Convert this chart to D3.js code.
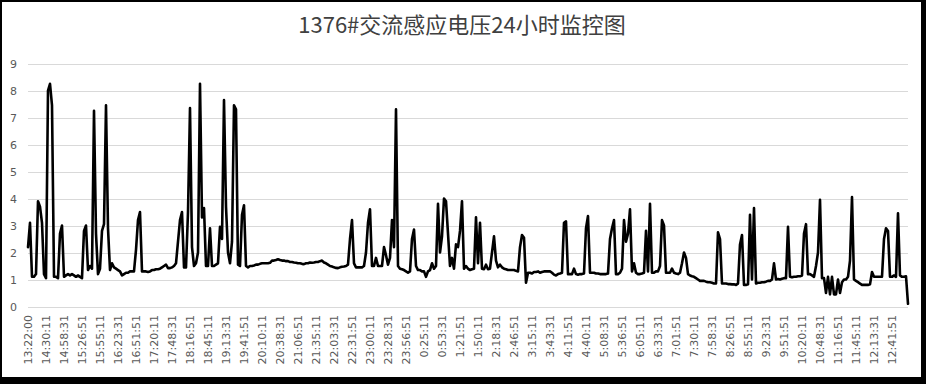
<!DOCTYPE html>
<html>
<head>
<meta charset="utf-8">
<script src="https://cdn.jsdelivr.net/npm/d3@7"></script>
<style>
  body { margin: 0; background: #fff; }
  svg { display: block; }
</style>
</head>
<body>
<script>
// chart text
var chartTitle = "1376#交流感应电压24小时监控图";

// category labels, one every 9 samples
var timeLabels = [
  "13:22:00", "14:30:11", "14:58:31", "15:26:51", "15:55:11", "16:23:31", "16:51:51",
  "17:20:11", "17:48:31", "18:16:51", "18:45:11", "19:13:31", "19:41:51", "20:10:11",
  "20:38:31", "21:06:51", "21:35:11", "22:03:31", "22:31:51", "23:00:11", "23:28:31",
  "23:56:51", "0:25:11", "0:53:31", "1:21:51", "1:50:11", "2:18:31", "2:46:51",
  "3:15:11", "3:43:31", "4:11:51", "4:40:11", "5:08:31", "5:36:51", "6:05:11",
  "6:33:31", "7:01:51", "7:30:11", "7:58:31", "8:26:51", "8:55:11", "9:23:31",
  "9:51:51", "10:20:11", "10:48:31", "11:16:51", "11:45:11", "12:13:31", "12:41:51"
];
var labelEvery = 9;

var yTicks = [0, 1, 2, 3, 4, 5, 6, 7, 8, 9];

// induced AC voltage samples
var voltage = [
  2.2, 3.1, 1.1, 1.1, 1.2, 3.9, 3.7, 3.1, 1.2, 1.05, 8.0, 8.25, 7.45, 1.1, 1.1, 1.05, 2.7, 3.0, 1.1, 1.15,
  1.2, 1.15, 1.2, 1.15, 1.1, 1.15, 1.1, 1.05, 2.8, 3.0, 1.35, 1.5, 1.4, 7.25, 2.7, 1.2, 1.4, 2.8, 3.05, 7.45,
  2.9, 1.35, 1.6, 1.45, 1.4, 1.35, 1.3, 1.15, 1.2, 1.25, 1.25, 1.3, 1.3, 1.3, 2.1, 3.2, 3.5, 1.3, 1.3, 1.3,
  1.28, 1.3, 1.35, 1.35, 1.38, 1.38, 1.4, 1.45, 1.5, 1.55, 1.42, 1.42, 1.45, 1.5, 1.6, 2.4, 3.2, 3.5, 1.45, 1.45,
  3.5, 7.35, 2.2, 1.5, 1.6, 2.0, 8.25, 3.3, 3.65, 1.5, 1.5, 2.9, 1.5, 1.5, 1.55, 1.6, 2.95, 2.5, 7.65, 3.7,
  2.0, 1.6, 2.4, 7.45, 7.3, 1.55, 1.5, 3.4, 3.75, 1.5, 1.45, 1.5, 1.5, 1.52, 1.55, 1.55, 1.58, 1.6, 1.6, 1.6,
  1.6, 1.62, 1.7, 1.7, 1.72, 1.75, 1.72, 1.7, 1.7, 1.68, 1.68, 1.65, 1.65, 1.63, 1.62, 1.6, 1.6, 1.58, 1.57, 1.6,
  1.6, 1.63, 1.62, 1.63, 1.65, 1.65, 1.68, 1.7, 1.63, 1.6, 1.55, 1.5, 1.48, 1.45, 1.43, 1.42, 1.45, 1.47, 1.48, 1.5,
  1.55, 2.5, 3.2, 1.6, 1.45, 1.45, 1.45, 1.45, 1.5, 2.0, 3.1, 3.6, 1.5, 1.5, 1.8, 1.5, 1.5, 1.5, 2.2, 1.9,
  1.55, 1.8, 3.2, 2.2, 7.3, 1.5, 1.4, 1.38, 1.35, 1.3, 1.25, 1.3, 2.5, 2.85, 1.5, 1.35, 1.35, 1.3, 1.3, 1.1,
  1.3, 1.35, 1.6, 1.4, 1.5, 3.8, 2.0, 2.6, 4.0, 3.9, 2.7, 1.5, 1.8, 1.4, 2.3, 2.2, 2.8, 3.9, 1.4, 1.5,
  1.4, 1.35, 1.38, 1.4, 3.3, 1.6, 3.1, 1.4, 1.38, 1.55, 1.38, 1.4, 2.0, 2.6, 1.7, 1.45, 1.55, 1.45, 1.4, 1.38,
  1.35, 1.35, 1.35, 1.35, 1.32, 1.3, 2.2, 2.65, 2.55, 0.88, 1.25, 1.25, 1.22, 1.28, 1.28, 1.3, 1.25, 1.28, 1.3, 1.3,
  1.3, 1.3, 1.25, 1.18, 1.15, 1.2, 1.22, 1.25, 3.1, 3.15, 1.2, 1.2, 1.2, 1.4, 1.2, 1.18, 1.2, 1.2, 1.22, 2.9,
  3.35, 1.25, 1.25, 1.25, 1.22, 1.22, 1.2, 1.2, 1.2, 1.2, 1.22, 2.5, 2.9, 3.2, 1.2, 1.2, 1.25, 1.4, 3.2, 2.4,
  2.7, 3.6, 1.3, 1.6, 1.25, 1.2, 1.2, 1.22, 1.25, 2.8, 1.3, 3.8, 1.25, 1.25, 1.3, 1.3, 1.5, 3.2, 3.0, 1.25,
  1.25, 1.25, 1.4, 1.25, 1.22, 1.2, 1.25, 1.6, 2.0, 1.8, 1.2, 1.15, 1.12, 1.1, 1.05, 1.0, 0.95, 0.95, 0.95, 0.92,
  0.9, 0.9, 0.88, 0.85, 0.85, 2.75, 2.5, 0.85, 0.85, 0.85, 0.83, 0.83, 0.82, 0.82, 0.8, 0.85, 2.3, 2.65, 0.8, 0.8,
  0.82, 3.4, 1.0, 3.65, 0.85, 0.88, 0.88, 0.9, 0.9, 0.92, 0.95, 0.95, 1.0, 1.6, 1.0, 1.02, 1.0, 1.03, 1.05, 1.05,
  2.95, 1.1, 1.08, 1.1, 1.1, 1.12, 1.12, 1.15, 2.7, 3.05, 1.2, 1.2, 1.15, 1.1, 1.5, 2.0, 3.95, 1.05, 1.05, 0.5,
  1.1, 0.45, 1.1, 0.45, 0.45, 1.0, 0.5, 0.9, 1.0, 1.0, 1.1, 1.7, 4.05, 1.0, 0.95, 0.9, 0.85, 0.8, 0.8, 0.8,
  0.8, 0.82, 1.28, 1.1, 1.1, 1.1, 1.1, 1.1, 2.5, 2.9, 2.8, 1.1, 1.1, 1.15, 1.1, 3.45, 1.15, 1.1, 1.1, 1.12,
  0.1
];

var width = 926, height = 384;
var margins = {top: 63.5, right: 18, bottom: 77.5, left: 28};

var svg = d3.select("body").append("svg")
    .attr("width", width)
    .attr("height", height);

// black frame round the chart area
svg.append("rect").attr("width", width).attr("height", height).attr("fill", "#000");
svg.append("rect").attr("x", 2).attr("y", 2)
    .attr("width", 919).attr("height", 375).attr("fill", "#fff");

var xScale = d3.scaleLinear()
    .domain([0, voltage.length - 1])
    .range([margins.left, width - margins.right]);

var yScale = d3.scaleLinear()
    .domain([0, 9])
    .range([height - margins.bottom, margins.top]);

// gridlines
svg.append("g").selectAll("line").data(yTicks).enter().append("line")
    .attr("x1", margins.left)
    .attr("x2", width - margins.right)
    .attr("y1", function (d) { return Math.round(yScale(d)) + 0.5; })
    .attr("y2", function (d) { return Math.round(yScale(d)) + 0.5; })
    .attr("stroke", "#d9d9d9")
    .attr("stroke-width", 1);

// y axis labels
var yAxis = d3.axisLeft(yScale).tickValues(yTicks).tickSize(0).tickPadding(0);
var gy = svg.append("g")
    .attr("transform", "translate(17,0)")
    .call(yAxis);
gy.select(".domain").remove();
gy.selectAll("text")
    .attr("font-family", "DejaVu Sans")
    .attr("font-size", 11)
    .attr("fill", "#595959");

// x axis labels (vertical)
var labelIdx = timeLabels.map(function (d, i) { return i * labelEvery; });
var xAxis = d3.axisBottom(xScale)
    .tickValues(labelIdx)
    .tickSize(0)
    .tickFormat(function (d) { return timeLabels[d / labelEvery]; });
var gx = svg.append("g")
    .attr("transform", "translate(0,315)")
    .call(xAxis);
gx.select(".domain").remove();
gx.selectAll("text")
    .attr("font-family", "DejaVu Sans")
    .attr("font-size", 11)
    .attr("fill", "#595959")
    .attr("text-anchor", "end")
    .attr("transform", "rotate(-90)")
    .attr("x", 0)
    .attr("y", 0)
    .attr("dy", "0.35em");

// the voltage line
var line = d3.line()
    .x(function (d, i) { return xScale(i); })
    .y(function (d) { return yScale(d); });

svg.append("path")
    .datum(voltage)
    .attr("d", line)
    .attr("fill", "none")
    .attr("stroke", "#000")
    .attr("stroke-width", 2.6)
    .attr("stroke-linejoin", "round")
    .attr("stroke-linecap", "round");

// title
svg.append("text")
    .attr("x", 462)
    .attr("y", 33)
    .attr("text-anchor", "middle")
    .attr("font-family", "Noto Sans CJK SC")
    .attr("font-size", 22)
    .attr("fill", "#404040")
    .text(chartTitle);
</script>
</body>
</html>
